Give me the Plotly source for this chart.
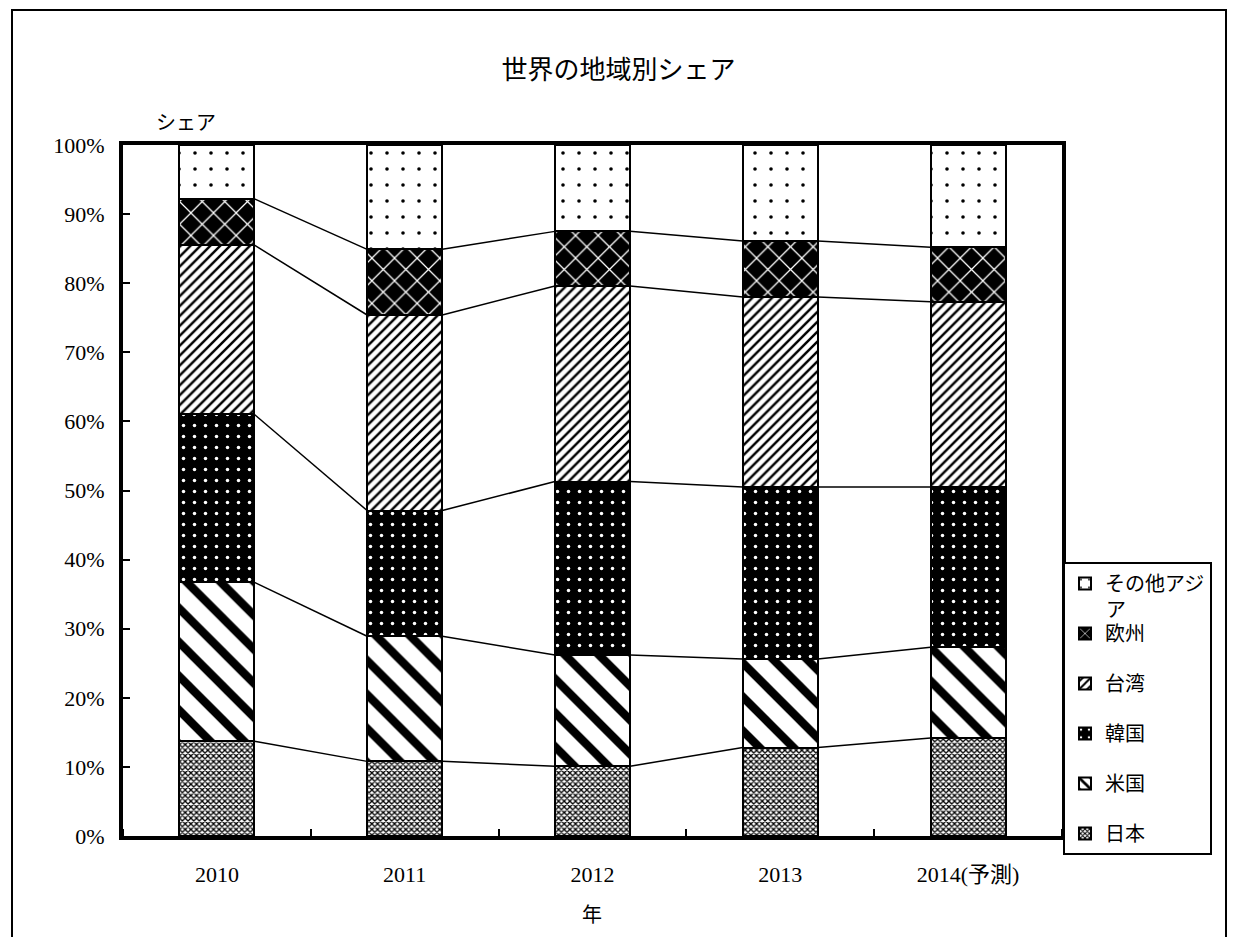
import plotly.graph_objects as go

years = ["2010", "2011", "2012", "2013", "2014(予測)"]
series_names = ["日本", "米国", "韓国", "台湾", "欧州", "その他アジア"]
japan = [13.7, 10.8, 10.1, 12.8, 14.2]
usa = [23.0, 18.1, 16.1, 12.8, 13.1]
korea = [24.3, 18.2, 25.1, 24.9, 23.2]
taiwan = [24.5, 28.3, 28.3, 27.5, 26.8]
europe = [6.7, 9.5, 7.9, 8.1, 7.9]
other_asia = [7.8, 15.1, 12.5, 13.9, 14.8]
y_ticks = [0, 10, 20, 30, 40, 50, 60, 70, 80, 90, 100]

values = [japan, usa, korea, taiwan, europe, other_asia]
legend_labels = ["日本", "米国", "韓国", "台湾", "欧州", "その他アジ"]
patterns = [
    dict(shape="x", size=4, solidity=0.55, fgcolor="black", bgcolor="white", fgopacity=1),
    dict(shape="\\", size=24, solidity=0.35, fgcolor="black", bgcolor="white", fgopacity=1),
    dict(shape=".", size=11, solidity=0.08, fgcolor="white", bgcolor="black", fgopacity=1),
    dict(shape="/", size=7, solidity=0.35, fgcolor="black", bgcolor="white", fgopacity=1),
    dict(shape="x", size=16, solidity=0.15, fgcolor="white", bgcolor="black", fgopacity=1),
    dict(shape=".", size=16, solidity=0.04, fgcolor="black", bgcolor="white", fgopacity=1),
]

FONT = "Liberation Serif, Noto Sans CJK JP"
xs = list(range(len(years)))
BW = 0.4

# page geometry (page px) -> figure with 8px body margin
PL, PR, PT, PB = 123, 1062, 145, 836
PW, PH = PR - PL, PB - PT
def px(x):
    return (x - PL) / PW
def py(y):
    return (PB - y) / PH

fig = go.Figure()
for i, (name, vals) in enumerate(zip(series_names, values)):
    fig.add_trace(go.Bar(
        x=xs, y=vals, name=legend_labels[i], width=BW,
        marker=dict(color="white", line=dict(color="black", width=2),
                    pattern=patterns[i]),
        legendgroup=name, legendrank=100 - i,
    ))

# connecting lines between cumulative tops
cum = [0.0] * len(years)
for k in range(len(values) - 1):
    cum = [c + v for c, v in zip(cum, values[k])]
    lx, ly = [], []
    for j in range(len(years) - 1):
        lx += [xs[j] + BW / 2, xs[j + 1] - BW / 2, None]
        ly += [cum[j], cum[j + 1], None]
    fig.add_trace(go.Scatter(x=lx, y=ly, mode="lines", showlegend=False,
                             line=dict(color="black", width=1.5), hoverinfo="skip"))

W, H = 1221, 929
fig.update_layout(
    width=W, height=H,
    barmode="stack",
    plot_bgcolor="white", paper_bgcolor="white",
    font=dict(family=FONT, size=22, color="black"),
    margin=dict(l=PL - 8, r=W - (PR - 8), t=PT - 8, b=H - (PB - 8)),
    title=dict(text="世界の地域別シェア", x=0.5, xanchor="center",
               y=1 - 62 / H, yanchor="middle", font=dict(size=26)),
    xaxis=dict(range=[-0.5, 4.5], tickvals=xs, ticktext=years, ticks="",
               showline=True, linewidth=4, linecolor="black", mirror=True,
               showgrid=False, zeroline=False, tickfont=dict(size=22),
               ticklabelstandoff=16,
               minor=dict(tick0=0.5, dtick=1, ticks="inside", ticklen=7,
                          tickwidth=1.5, tickcolor="black", showgrid=False)),
    yaxis=dict(range=[0, 100], tickvals=y_ticks,
               ticktext=[f"{v}%" for v in y_ticks], ticks="inside",
               ticklen=7, tickwidth=1.5, tickcolor="black",
               showline=True, linewidth=4, linecolor="black", mirror=True,
               showgrid=False, zeroline=False, tickfont=dict(size=22),
               ticklabelstandoff=10),
    legend=dict(x=px(1063), xanchor="left", y=py(562), yanchor="top",
                traceorder="grouped", tracegroupgap=21,
                bordercolor="black", borderwidth=2, bgcolor="white",
                font=dict(size=20)),
    showlegend=True,
    annotations=[
        dict(text="シェア", xref="paper", yref="paper", x=px(186),
             y=py(123), showarrow=False, font=dict(size=20),
             xanchor="center", yanchor="middle"),
        dict(text="年", xref="paper", yref="paper", x=px(592),
             y=py(915), showarrow=False, font=dict(size=20),
             xanchor="center", yanchor="middle"),
        dict(text="ア", xref="paper", yref="paper", x=px(1104),
             y=py(610), showarrow=False, font=dict(size=20),
             xanchor="left", yanchor="middle"),
    ],
    shapes=[dict(type="rect", xref="paper", yref="paper",
                 x0=px(12), x1=px(1226),
                 y0=-0.25, y1=py(10),
                 line=dict(color="black", width=2), fillcolor="rgba(0,0,0,0)",
                 layer="below")],
)

fig.write_html("out.html")
